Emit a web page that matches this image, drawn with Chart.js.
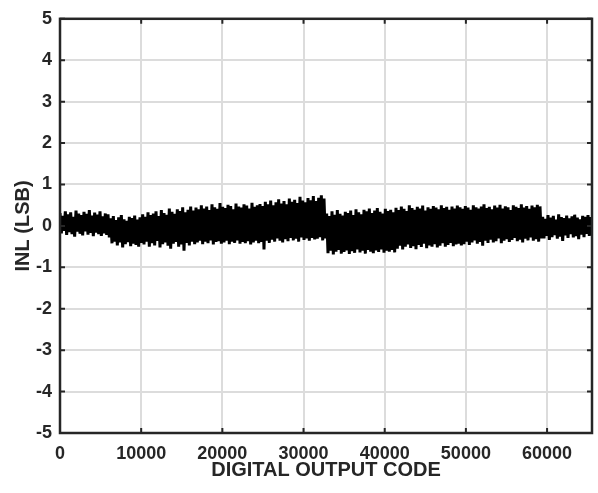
<!DOCTYPE html>
<html>
<head>
<meta charset="utf-8">
<script src="https://cdn.jsdelivr.net/npm/chart.js@4.4.0/dist/chart.umd.min.js"></script>
<style>
  html, body { margin: 0; padding: 0; background: #fff; }
  canvas { display: block; }
</style>
</head>
<body>
<canvas id="inl" width="598" height="493"></canvas>
<script>
// INL vs digital output code, 16-bit (0..65535)
const maxCode = 65535;
const xTicks = [0, 10000, 20000, 30000, 40000, 50000, 60000];
const yTicks = [-5, -4, -3, -2, -1, 0, 1, 2, 3, 4, 5];

// upper peaks of the INL trace, read left to right
const inlHigh = [
  0.31, 0.24, 0.35, 0.28, 0.33, 0.22, 0.37, 0.30, 0.26, 0.34, 0.29, 0.38, 0.25, 0.32, 0.27, 0.35, 0.23, 0.30, 0.28,
  0.18, 0.24, 0.14, 0.21, 0.26, 0.16, 0.12, 0.22, 0.19, 0.25, 0.15, 0.21,
  0.28, 0.22, 0.33, 0.26, 0.30, 0.35, 0.24, 0.38, 0.31, 0.27, 0.42, 0.34, 0.29, 0.40, 0.36, 0.45, 0.33, 0.39, 0.47, 0.37,
  0.44, 0.40, 0.50, 0.42, 0.47, 0.38, 0.52, 0.45, 0.41, 0.55, 0.46, 0.43, 0.51, 0.48, 0.40, 0.54, 0.47, 0.44, 0.52, 0.49, 0.42, 0.56, 0.46, 0.50, 0.53,
  0.48, 0.58, 0.52, 0.61, 0.50, 0.57, 0.64, 0.54, 0.60, 0.52, 0.66, 0.58, 0.63, 0.55, 0.70, 0.61, 0.57, 0.67, 0.62, 0.72, 0.60, 0.68, 0.74, 0.66,
  0.30, 0.24, 0.35, 0.27, 0.38, 0.29, 0.25, 0.34, 0.31, 0.37, 0.26, 0.40, 0.33, 0.28, 0.39, 0.35, 0.42, 0.31, 0.37, 0.43, 0.34, 0.30, 0.41, 0.36, 0.39, 0.33,
  0.44, 0.38, 0.47, 0.41, 0.36, 0.50, 0.43, 0.39, 0.46, 0.42, 0.49, 0.37, 0.45, 0.41, 0.48, 0.44, 0.40, 0.50, 0.43, 0.46, 0.39, 0.47, 0.42, 0.49, 0.45,
  0.41, 0.48, 0.44, 0.39, 0.50, 0.45, 0.42, 0.47, 0.52, 0.43, 0.46, 0.40, 0.49, 0.44, 0.51, 0.42, 0.47, 0.45, 0.38, 0.50, 0.46, 0.43, 0.52, 0.44, 0.48, 0.41, 0.49, 0.45, 0.51, 0.47,
  0.22, 0.17, 0.26, 0.20, 0.24, 0.15, 0.28, 0.21, 0.19, 0.25, 0.18, 0.23, 0.27, 0.20, 0.16, 0.24, 0.22, 0.26, 0.21
];

// lower peaks, same positions (offset by half a step)
const inlLow = [
  -0.18, -0.12, -0.22, -0.15, -0.20, -0.26, -0.14, -0.19, -0.23, -0.13, -0.21, -0.17, -0.25, -0.16, -0.20, -0.24, -0.18, -0.22, -0.28,
  -0.42, -0.38, -0.47, -0.40, -0.52, -0.44, -0.39, -0.49, -0.43, -0.46, -0.50, -0.41,
  -0.45, -0.38, -0.50, -0.42, -0.47, -0.36, -0.52, -0.44, -0.40, -0.48, -0.55, -0.43, -0.39, -0.50, -0.45, -0.60, -0.41, -0.47, -0.38, -0.44,
  -0.40, -0.36, -0.44, -0.38, -0.42, -0.35, -0.45, -0.39, -0.37, -0.43, -0.40, -0.36, -0.44, -0.38, -0.41, -0.35, -0.43, -0.39, -0.42, -0.37, -0.45, -0.40, -0.36, -0.42, -0.39,
  -0.57, -0.36, -0.41, -0.33, -0.38, -0.30, -0.36, -0.40, -0.32, -0.37, -0.29, -0.35, -0.31, -0.38, -0.28, -0.34, -0.30, -0.36, -0.29, -0.33, -0.31, -0.27, -0.35, -0.30,
  -0.66, -0.60, -0.69, -0.62, -0.58, -0.67, -0.63, -0.59, -0.68, -0.61, -0.65, -0.57, -0.64, -0.60, -0.67, -0.58, -0.62, -0.66, -0.59, -0.63, -0.57, -0.65, -0.60, -0.62, -0.58, -0.64,
  -0.55, -0.48, -0.57, -0.50, -0.45, -0.53, -0.49, -0.56, -0.46, -0.51, -0.43, -0.54, -0.47, -0.50, -0.44, -0.52, -0.48, -0.42, -0.50, -0.46, -0.41, -0.49, -0.45, -0.43, -0.47,
  -0.44, -0.38, -0.46, -0.40, -0.35, -0.43, -0.39, -0.48, -0.36, -0.41, -0.33, -0.40, -0.37, -0.30, -0.42, -0.36, -0.32, -0.39, -0.34, -0.29, -0.37, -0.33, -0.40, -0.31, -0.35, -0.28, -0.36, -0.32, -0.38, -0.30,
  -0.30, -0.24, -0.34, -0.27, -0.22, -0.31, -0.26, -0.36, -0.23, -0.29, -0.20, -0.28, -0.25, -0.32, -0.21, -0.27, -0.19, -0.24, -0.22
];

const FONT = "'Liberation Sans', Arial, Helvetica, sans-serif";
const INK = "#262626";

// interleave highs and lows into one trace, evenly spaced in code
const nPts = inlHigh.length * 2;
const codeStep = maxCode / (nPts - 1);
const trace = [];
inlHigh.forEach((hi, i) => {
  trace.push({ x: (2 * i) * codeStep, y: hi });
  trace.push({ x: (2 * i + 1) * codeStep, y: inlLow[i] });
});

// box around the plot with inward tick marks on all four sides
const frame = {
  id: "frame",
  afterDraw(chart) {
    const { ctx, chartArea: a, scales } = chart;
    const len = 5;
    ctx.save();
    ctx.strokeStyle = INK;
    ctx.lineWidth = 2;
    ctx.beginPath();
    xTicks.forEach((v) => {
      const px = scales.x.getPixelForValue(v);
      ctx.moveTo(px, a.bottom);
      ctx.lineTo(px, a.bottom - len);
      ctx.moveTo(px, a.top);
      ctx.lineTo(px, a.top + len);
    });
    yTicks.forEach((v) => {
      const py = scales.y.getPixelForValue(v);
      ctx.moveTo(a.left, py);
      ctx.lineTo(a.left + len, py);
      ctx.moveTo(a.right, py);
      ctx.lineTo(a.right - len, py);
    });
    ctx.stroke();
    ctx.lineWidth = 2.5;
    ctx.strokeRect(a.left, a.top, a.right - a.left, a.bottom - a.top);
    ctx.restore();
  },
};

new Chart(document.getElementById("inl"), {
  type: "line",
  data: {
    datasets: [
      {
        label: "INL",
        data: trace,
        borderColor: "#000",
        borderWidth: 3,
        borderJoinStyle: "bevel",
        pointRadius: 0,
        tension: 0,
        fill: false,
      },
    ],
  },
  options: {
    responsive: false,
    animation: false,
    events: [],
    layout: { padding: { top: 13, right: 6, left: 0, bottom: 0 } },
    plugins: { legend: { display: false }, tooltip: { enabled: false } },
    scales: {
      x: {
        type: "linear",
        min: 0,
        max: maxCode,
        afterBuildTicks: (s) => { s.ticks = xTicks.map((v) => ({ value: v })); },
        afterFit: (s) => { s.height = 60; },
        grid: { color: "#dcdcdc", lineWidth: 2, drawTicks: false },
        border: { display: false },
        ticks: {
          padding: 10,
          maxRotation: 0,
          color: INK,
          font: { family: FONT, size: 18, weight: "bold" },
          callback: (v) => String(v),
        },
        title: {
          display: true,
          text: "DIGITAL OUTPUT CODE",
          color: INK,
          padding: { top: 0, bottom: 11 },
          font: { family: FONT, size: 20, weight: "bold" },
        },
      },
      y: {
        min: -5,
        max: 5,
        afterBuildTicks: (s) => { s.ticks = yTicks.map((v) => ({ value: v })); },
        afterFit: (s) => { s.width = 60; },
        grid: { color: "#dcdcdc", lineWidth: 2, drawTicks: false },
        border: { display: false },
        ticks: {
          padding: 8,
          color: INK,
          font: { family: FONT, size: 18, weight: "bold" },
        },
        title: {
          display: true,
          text: "INL (LSB)",
          color: INK,
          padding: { top: 11, bottom: 0 },
          font: { family: FONT, size: 20, weight: "bold" },
        },
      },
    },
  },
  plugins: [frame],
});
</script>
</body>
</html>
